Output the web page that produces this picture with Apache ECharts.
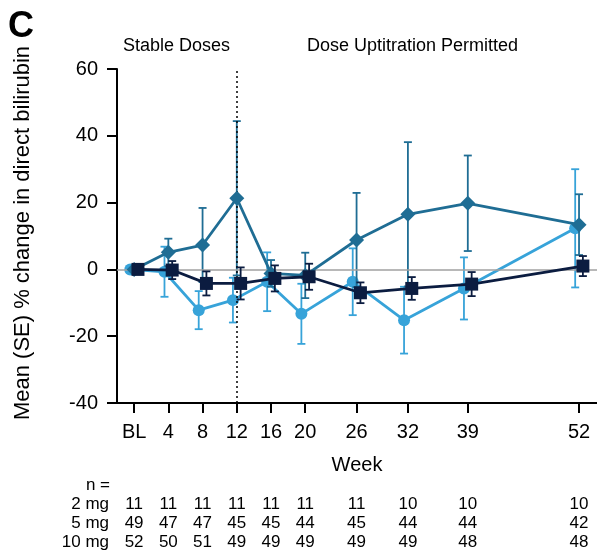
<!DOCTYPE html>
<html>
<head>
<meta charset="utf-8">
<script src="https://cdn.jsdelivr.net/npm/echarts@6/dist/echarts.min.js"></script>
<style>
html,body{margin:0;padding:0;background:#fff;}
#c{width:597px;height:558px;}
</style>
</head>
<body>
<div id="c"></div>
<script>
// ---- data ----
const weeks = [0, 4, 8, 12, 16, 20, 26, 32, 39, 52];
const weekLabels = ['BL', '4', '8', '12', '16', '20', '26', '32', '39', '52'];
const yTicks = [-40, -20, 0, 20, 40, 60];

const mean2mg = [0, 5.1, 7.3, 21.3, -1.2, -1.8, 8.8, 16.5, 19.8, 13.4];
const se2mg   = [0, 4.1, 11.1, 23.1, 4.0, 6.8, 14.1, 21.6, 14.3, 9.1];
const mean5mg = [0, -0.7, -12.2, -9.2, -3.7, -13.3, -3.7, -15.2, -5.7, 12.3];
const se5mg   = [0, 7.5, 5.7, 6.7, 8.8, 9.0, 10.0, 10.0, 9.3, 17.7];
const mean10mg = [0, -0.2, -4.2, -4.2, -2.7, -2.2, -7.0, -5.7, -4.4, 1.0];
const se10mg   = [0, 2.7, 3.6, 4.8, 3.9, 3.9, 3.1, 3.4, 3.6, 3.0];

const n2mg  = [11, 11, 11, 11, 11, 11, 11, 10, 10, 10];
const n5mg  = [49, 47, 47, 45, 45, 44, 45, 44, 44, 42];
const n10mg = [52, 50, 51, 49, 49, 49, 49, 49, 48, 48];
const rowLabels = ['2 mg', '5 mg', '10 mg'];

// ---- styling ----
const FONT = 'Liberation Sans, Arial, sans-serif';
const C2 = '#1f6d94';
const C5 = '#37a3d9';
const C10 = '#0b1c40';
const DODGE = 0.45;

const chart = echarts.init(document.getElementById('c'), null, {renderer: 'canvas'});

function pts(mean, off) {
  return weeks.map((w, i) => [w + off, mean[i]]);
}
function bars(mean, se, off) {
  const out = [];
  weeks.forEach((w, i) => { if (se[i] > 0) out.push([w + off, mean[i] - se[i], mean[i] + se[i]]); });
  return out;
}
function errSeries(mean, se, off, color, z) {
  return {
    type: 'custom',
    data: bars(mean, se, off),
    encode: {x: 0, y: [1, 2]},
    z: z,
    clip: false,
    silent: true,
    renderItem: function (params, api) {
      const x = api.value(0), lo = api.value(1), hi = api.value(2);
      const t = api.coord([x, hi]), b = api.coord([x, lo]);
      const w = 4;
      const st = {stroke: color, lineWidth: 1.8};
      return {type: 'group', children: [
        {type: 'line', shape: {x1: t[0], y1: t[1], x2: b[0], y2: b[1]}, style: st},
        {type: 'line', shape: {x1: t[0] - w, y1: t[1], x2: t[0] + w, y2: t[1]}, style: st},
        {type: 'line', shape: {x1: b[0] - w, y1: b[1], x2: b[0] + w, y2: b[1]}, style: st}
      ]};
    }
  };
}
function lineSeries(name, mean, off, color, symbol, size, z) {
  return {
    name: name, type: 'line', data: pts(mean, off), z: z,
    symbol: symbol, symbolSize: size, showSymbol: true,
    lineStyle: {color: color, width: 2.8},
    itemStyle: {color: color},
    clip: false, silent: true, animation: false
  };
}

const countAxis = (arr, offset) => ({
  type: 'value', min: -2, max: 54.1, position: 'bottom', offset: offset,
  axisLine: {show: false}, axisTick: {show: false}, splitLine: {show: false},
  axisLabel: {
    show: true, customValues: weeks, margin: 0, verticalAlign: 'middle',
    fontFamily: FONT, fontSize: 17, color: '#000',
    formatter: v => { const i = weeks.indexOf(v); return i >= 0 ? String(arr[i]) : ''; }
  }
});

const option = {
  animation: false,
  backgroundColor: '#fff',
  grid: {left: 117, right: 0, top: 69, bottom: 155, containLabel: false},
  xAxis: [{
    type: 'value', min: -2, max: 54.1, position: 'bottom',
    name: 'Week', nameLocation: 'middle', nameGap: 52,
    nameTextStyle: {fontFamily: FONT, fontSize: 20, color: '#000'},
    axisLine: {show: true, onZero: false, lineStyle: {color: '#000', width: 2}},
    axisTick: {show: true, customValues: weeks, length: 10, lineStyle: {color: '#000', width: 2}},
    splitLine: {show: false},
    axisLabel: {
      show: true, customValues: weeks, margin: 19,
      fontFamily: FONT, fontSize: 20, color: '#000',
      formatter: v => { const i = weeks.indexOf(v); return i >= 0 ? weekLabels[i] : ''; }
    }
  },
  countAxis(n2mg, 101), countAxis(n5mg, 120), countAxis(n10mg, 139)],
  yAxis: {
    type: 'value', min: yTicks[0], max: yTicks[yTicks.length - 1], interval: 20,
    axisLine: {show: true, onZero: false, lineStyle: {color: '#000', width: 2}},
    axisTick: {show: true, length: 10, lineStyle: {color: '#000', width: 2}},
    splitLine: {show: false},
    axisLabel: {margin: 19, fontFamily: FONT, fontSize: 20, color: '#000'}
  },
  series: [
    {
      type: 'line', data: [], z: 0, silent: true,
      markLine: {
        silent: true, symbol: 'none', animation: false,
        label: {show: false},
        data: [
          {yAxis: 0, lineStyle: {color: '#a0a0a0', width: 1.5, type: 'solid'}},
          {xAxis: 12, lineStyle: {color: '#000', width: 1.5, type: [2, 3]}}
        ]
      }
    },
    errSeries(mean5mg, se5mg, -DODGE, C5, 2),
    lineSeries('5 mg', mean5mg, -DODGE, C5, 'circle', 12, 3),
    errSeries(mean2mg, se2mg, 0, C2, 4),
    lineSeries('2 mg', mean2mg, 0, C2, 'diamond', 15, 5),
    errSeries(mean10mg, se10mg, DODGE, C10, 6),
    lineSeries('10 mg', mean10mg, DODGE, C10, 'rect', 13, 7)
  ],
  graphic: [
    {type: 'text', left: 8, top: 9, style: {text: 'C', font: 'bold 36px ' + FONT, fill: '#000'}},
    {type: 'text', x: 123, y: 46, style: {text: 'Stable Doses', font: '18px ' + FONT, fill: '#000', textVerticalAlign: 'middle'}},
    {type: 'text', x: 307, y: 46, style: {text: 'Dose Uptitration Permitted', font: '18px ' + FONT, fill: '#000', textVerticalAlign: 'middle'}},
    {type: 'text', x: 23, y: 233, rotation: Math.PI / 2,
      style: {text: 'Mean (SE) % change in direct bilirubin', font: '22px ' + FONT, fill: '#000', textAlign: 'center', textVerticalAlign: 'middle'}},
    {type: 'text', x: 110, y: 485, style: {text: 'n =', font: '17px ' + FONT, fill: '#000', textAlign: 'right', textVerticalAlign: 'middle'}},
    {type: 'text', x: 109, y: 504, style: {text: rowLabels[0], font: '17px ' + FONT, fill: '#000', textAlign: 'right', textVerticalAlign: 'middle'}},
    {type: 'text', x: 109, y: 523, style: {text: rowLabels[1], font: '17px ' + FONT, fill: '#000', textAlign: 'right', textVerticalAlign: 'middle'}},
    {type: 'text', x: 109, y: 542, style: {text: rowLabels[2], font: '17px ' + FONT, fill: '#000', textAlign: 'right', textVerticalAlign: 'middle'}}
  ]
};
chart.setOption(option);
</script>
</body>
</html>
